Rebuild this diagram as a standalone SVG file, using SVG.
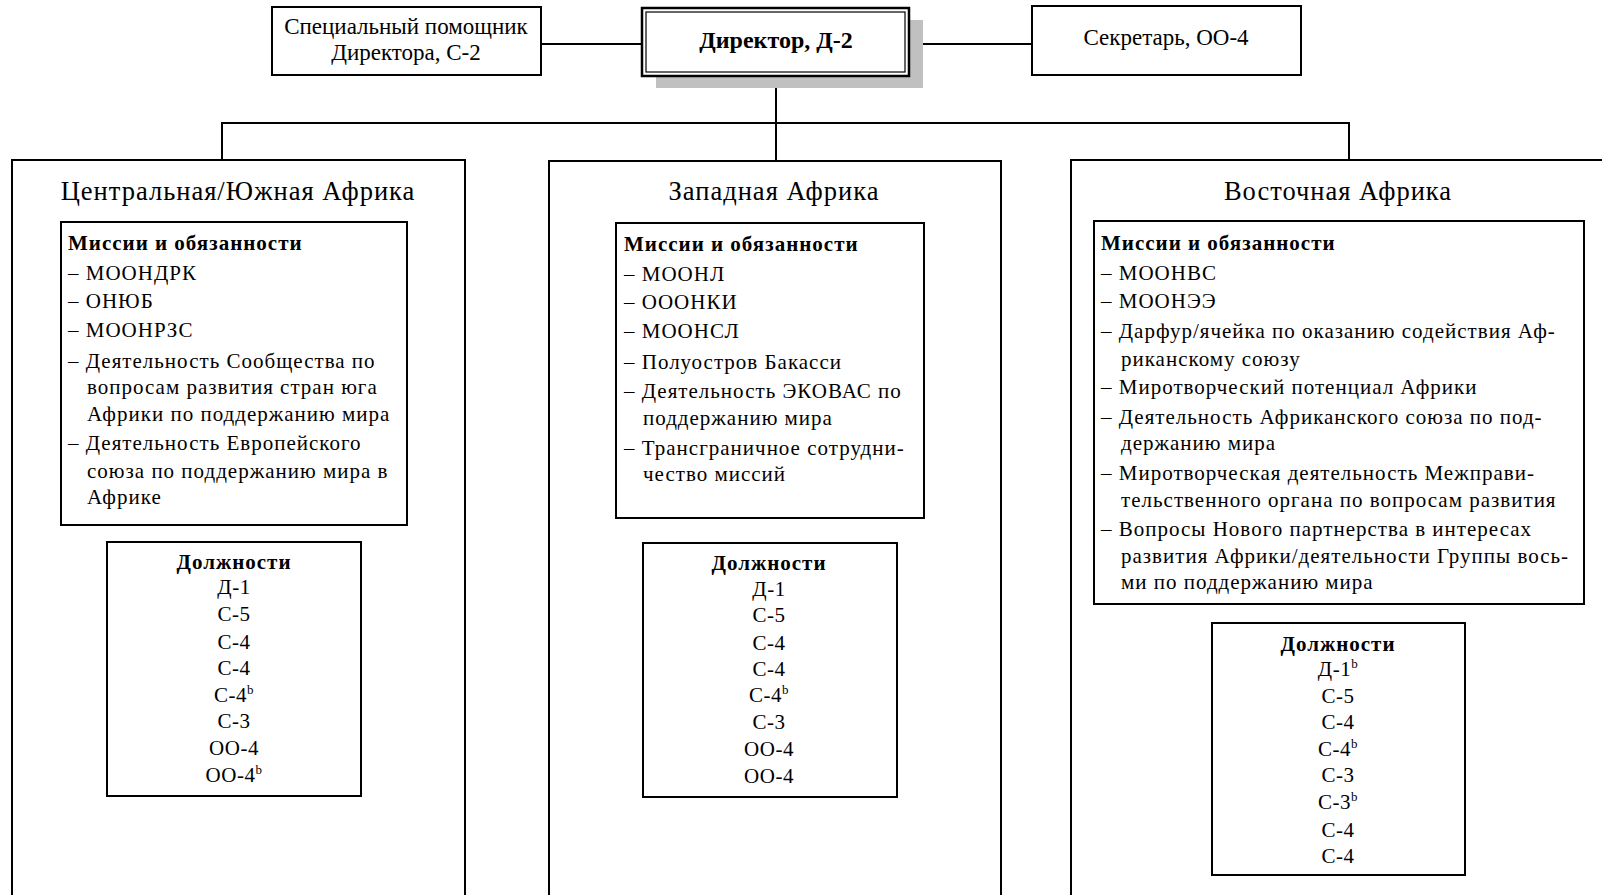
<svg xmlns="http://www.w3.org/2000/svg" width="1602" height="895" viewBox="0 0 1602 895">
<style>
text{font-family:"Liberation Serif","Times New Roman",serif;fill:#000}
.box{fill:#fff;stroke:#000;stroke-width:2}
.ln{fill:none;stroke:#000;stroke-width:2}
.top{font-size:23px}
.dir{font-size:24px;font-weight:bold}
.ttl{font-size:26.5px;letter-spacing:1px}
.m{font-size:21px;letter-spacing:1px}
.mh{font-size:21px;font-weight:bold;letter-spacing:1px}
.p{font-size:21px;text-anchor:middle;letter-spacing:0.5px}
.ph{font-size:21px;font-weight:bold;text-anchor:middle;letter-spacing:1px}
.c{text-anchor:middle}
.sup{font-size:13px}
</style>
<rect width="1602" height="895" fill="#fff"/>
<g id="connectors">
<line class="ln" x1="541" y1="44" x2="642" y2="44"/>
<line class="ln" x1="909" y1="44" x2="1032" y2="44"/>
<line class="ln" x1="776" y1="88" x2="776" y2="161"/>
<polyline class="ln" points="222,161 222,123 1349,123 1349,161"/>
</g>
<g id="special-assistant">
<rect class="box" x="272" y="7" width="269" height="68"/>
<text class="top c" x="406" y="34">Специальный помощник</text>
<text class="top c" x="406" y="60">Директора, С-2</text>
</g>
<g id="director">
<rect x="656" y="20" width="267" height="68" fill="#c0c0c0"/>
<rect x="642" y="8" width="267" height="68" fill="#fff" stroke="#000" stroke-width="2.5"/>
<rect x="646" y="12" width="259" height="60" fill="none" stroke="#000" stroke-width="1.2"/>
<text class="dir c" x="776" y="48">Директор, Д-2</text>
</g>
<g id="secretary">
<rect class="box" x="1032" y="6" width="269" height="69"/>
<text class="top c" x="1166" y="45">Секретарь, ОО-4</text>
</g>
<g id="central-south">
<rect class="box" x="12" y="160" width="453" height="745"/>
<text class="ttl c" x="238" y="200">Центральная/Южная Африка</text>
<rect class="box" x="61" y="222" width="346" height="303"/>
<text class="mh" x="68" y="250">Миссии и обязанности</text>
<text class="m" x="68" y="280">– МООНДРК</text>
<text class="m" x="68" y="308">– ОНЮБ</text>
<text class="m" x="68" y="337">– МООНРЗС</text>
<text class="m" x="68" y="368">– Деятельность Сообщества по</text>
<text class="m" x="87" y="394">вопросам развития стран юга</text>
<text class="m" x="87" y="421">Африки по поддержанию мира</text>
<text class="m" x="68" y="450">– Деятельность Европейского</text>
<text class="m" x="87" y="478">союза по поддержанию мира в</text>
<text class="m" x="87" y="504">Африке</text>
<rect class="box" x="107" y="542" width="254" height="254"/>
<text class="ph" x="234" y="569">Должности</text>
<text class="p" x="234" y="594">Д-1</text>
<text class="p" x="234" y="621">С-5</text>
<text class="p" x="234" y="649">С-4</text>
<text class="p" x="234" y="675">С-4</text>
<text class="p" x="234" y="702">С-4<tspan class="sup" dy="-8">b</tspan></text>
<text class="p" x="234" y="728">С-3</text>
<text class="p" x="234" y="755">ОО-4</text>
<text class="p" x="234" y="782">ОО-4<tspan class="sup" dy="-8">b</tspan></text>
</g>
<g id="west">
<rect class="box" x="549" y="161" width="452" height="745"/>
<text class="ttl c" x="774" y="200">Западная Африка</text>
<rect class="box" x="616" y="223" width="308" height="295"/>
<text class="mh" x="624" y="251">Миссии и обязанности</text>
<text class="m" x="624" y="281">– МООНЛ</text>
<text class="m" x="624" y="309">– ОООНКИ</text>
<text class="m" x="624" y="338">– МООНСЛ</text>
<text class="m" x="624" y="369">– Полуостров Бакасси</text>
<text class="m" x="624" y="398">– Деятельность ЭКОВАС по</text>
<text class="m" x="643" y="425">поддержанию мира</text>
<text class="m" x="624" y="455">– Трансграничное сотрудни-</text>
<text class="m" x="643" y="481">чество миссий</text>
<rect class="box" x="643" y="543" width="254" height="254"/>
<text class="ph" x="769" y="570">Должности</text>
<text class="p" x="769" y="596">Д-1</text>
<text class="p" x="769" y="622">С-5</text>
<text class="p" x="769" y="650">С-4</text>
<text class="p" x="769" y="676">С-4</text>
<text class="p" x="769" y="702">С-4<tspan class="sup" dy="-8">b</tspan></text>
<text class="p" x="769" y="729">С-3</text>
<text class="p" x="769" y="756">ОО-4</text>
<text class="p" x="769" y="783">ОО-4</text>
</g>
<g id="east">
<rect class="box" x="1071" y="160" width="560" height="745"/>
<text class="ttl c" x="1338" y="200">Восточная Африка</text>
<rect class="box" x="1094" y="221" width="490" height="383"/>
<text class="mh" x="1101" y="250">Миссии и обязанности</text>
<text class="m" x="1101" y="280">– МООНВС</text>
<text class="m" x="1101" y="308">– МООНЭЭ</text>
<text class="m" x="1101" y="338">– Дарфур/ячейка по оказанию содействия Аф-</text>
<text class="m" x="1121" y="366">риканскому союзу</text>
<text class="m" x="1101" y="394">– Миротворческий потенциал Африки</text>
<text class="m" x="1101" y="424">– Деятельность Африканского союза по под-</text>
<text class="m" x="1121" y="450">держанию мира</text>
<text class="m" x="1101" y="480">– Миротворческая деятельность Межправи-</text>
<text class="m" x="1121" y="507">тельственного органа по вопросам развития</text>
<text class="m" x="1101" y="536">– Вопросы Нового партнерства в интересах</text>
<text class="m" x="1121" y="563">развития Африки/деятельности Группы вось-</text>
<text class="m" x="1121" y="589">ми по поддержанию мира</text>
<rect class="box" x="1212" y="623" width="253" height="252"/>
<text class="ph" x="1338" y="651">Должности</text>
<text class="p" x="1338" y="676">Д-1<tspan class="sup" dy="-8">b</tspan></text>
<text class="p" x="1338" y="703">С-5</text>
<text class="p" x="1338" y="729">С-4</text>
<text class="p" x="1338" y="756">С-4<tspan class="sup" dy="-8">b</tspan></text>
<text class="p" x="1338" y="782">С-3</text>
<text class="p" x="1338" y="809">С-3<tspan class="sup" dy="-8">b</tspan></text>
<text class="p" x="1338" y="837">С-4</text>
<text class="p" x="1338" y="863">С-4</text>
</g>
</svg>
